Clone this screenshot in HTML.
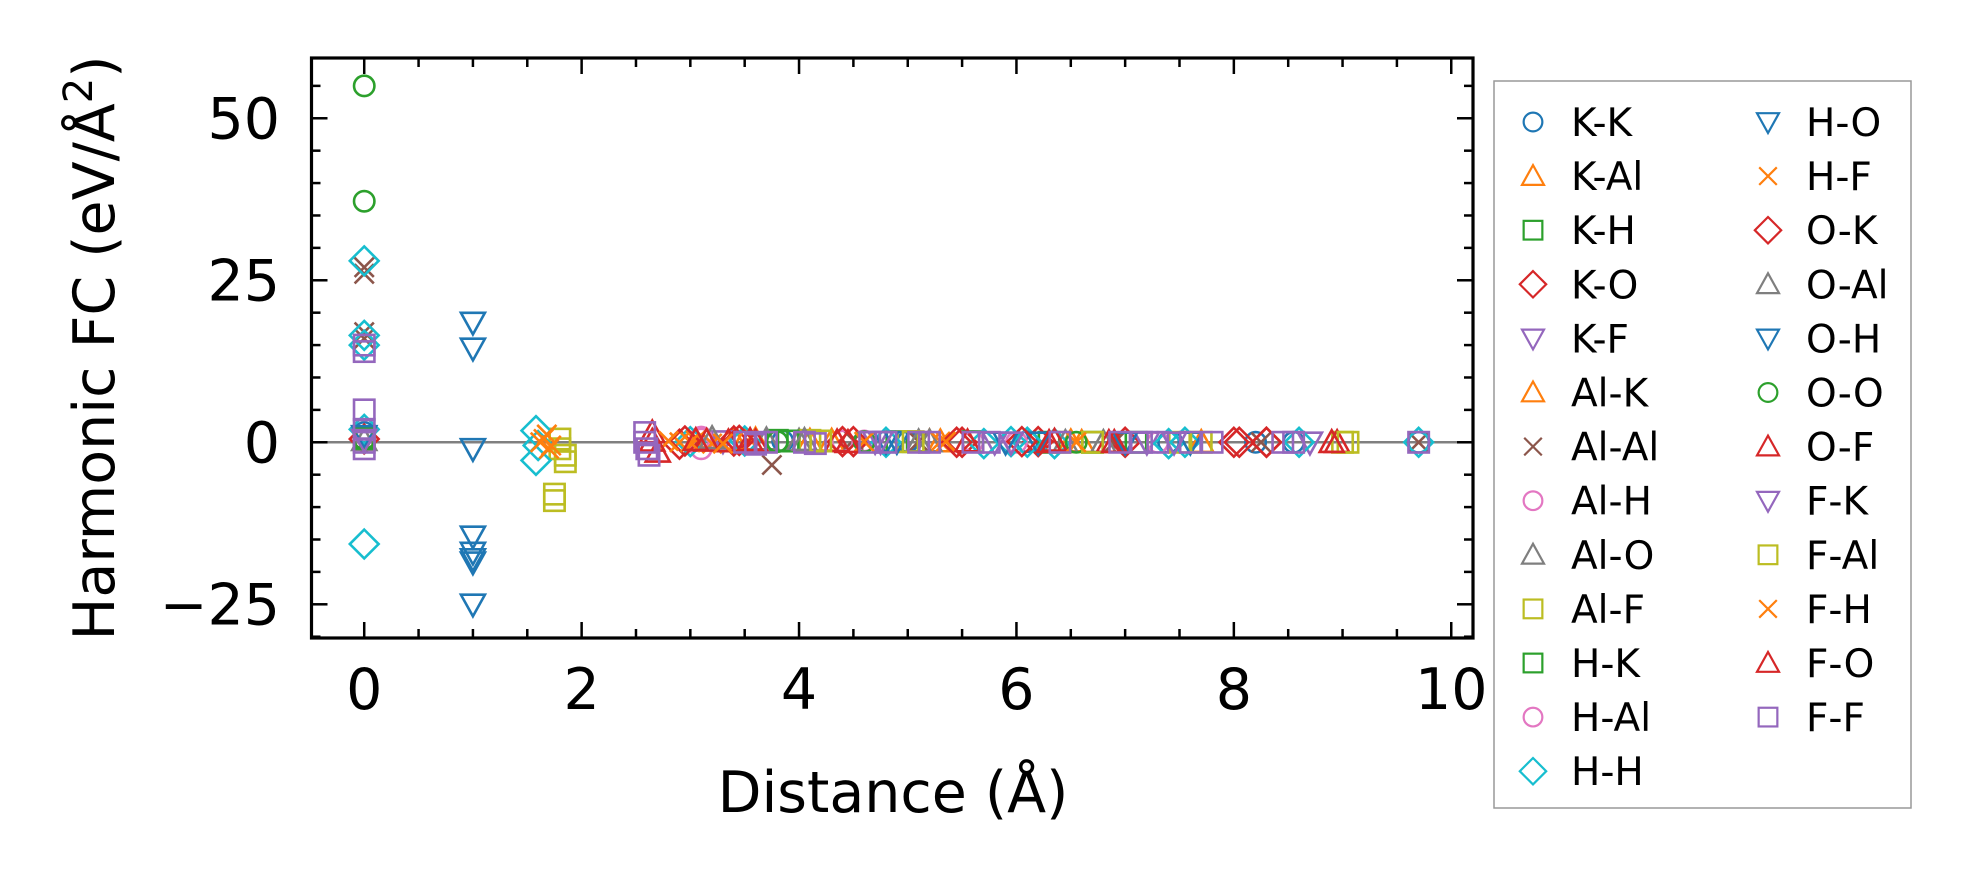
<!DOCTYPE html>
<html><head><meta charset="utf-8"><style>
html,body{margin:0;padding:0;background:#fff}
svg{display:block}
text{font-family:"DejaVu Sans","Liberation Sans",sans-serif;fill:#000}
</style></head><body>
<svg id="chart" width="1970" height="883" viewBox="0 0 1970 883" xmlns="http://www.w3.org/2000/svg">
<g id="marks"></g>
<g id="axes"></g>
<g id="legend"></g>
</svg>
<script>
const xTicks=[0,2,4,6,8,10];
const yTicks=[-25,0,25,50];
const seriesNames=["K-K","K-Al","K-H","K-O","K-F","Al-K","Al-Al","Al-H","Al-O","Al-F","H-K","H-Al","H-H","H-O","H-F","O-K","O-Al","O-H","O-O","O-F","F-K","F-Al","F-H","F-O","F-F"];
const seriesColors=["#1f77b4","#ff7f0e","#2ca02c","#d62728","#9467bd","#ff7f0e","#8c564b","#e377c2","#7f7f7f","#bcbd22","#2ca02c","#e377c2","#17becf","#1f77b4","#ff7f0e","#d62728","#7f7f7f","#1f77b4","#2ca02c","#d62728","#9467bd","#bcbd22","#ff7f0e","#d62728","#9467bd"];
const seriesMarkers=["o","^","s","D","v","^","x","o","^","s","s","o","D","v","x","D","^","v","o","^","v","s","x","^","s"];
const distKK=[0,3.85,5.0,6.1,7.4,8.2,8.55,9.7];
const valKK=[1.5,0.2,0.1,0.1,0.0,0.0,0.0,0.0];
const distKAl=[3.4,3.6,4.3,5.2,6.5,7.7];
const valKAl=[0.5,0.4,0.2,0.1,0.1,0.0];
const distKH=[0,3.8,4.9,6.3,7.1];
const valKH=[0.8,0.3,0.1,0.0,0.0];
const distKO=[0,2.9,3.4,4.5,5.5,6.2,7.0,8.0,8.3];
const valKO=[0.5,-0.3,0.2,0.1,0.0,0.1,0.0,0.0,0.0];
const distKF=[0,3.3,4.7,5.8,7.2,8.7];
const valKF=[0.3,0.2,0.1,0.0,0.0,0.0];
const distAlK=[3.5,4.1,5.3,6.6];
const valAlK=[0.4,0.2,0.1,0.0];
const distAlAl=[0,0,0,0,3.75,4.5,5.1,6.9,8.25,9.7];
const valAlAl=[27,26,17,16,-3.5,0.3,0.1,0.0,0.0,0.0];
const distAlH=[3.1,3.1,4.4,5.6,7.3];
const valAlH=[0.5,-1.0,0.2,0.1,0.0];
const distAlO=[0,3.7,4.0,5.2,6.8];
const valAlO=[0.3,0.4,0.2,0.1,0.0];
const distAlF=[1.8,1.8,1.85,1.85,1.75,1.75,4.1,5.0,6.4,7.5,9.0];
const valAlF=[0.5,-1.0,-2.0,-3.0,-9.0,-8.0,0.3,0.1,0.0,0.0,0.0];
const distHK=[0,3.9,5.6,6.7];
const valHK=[0.6,0.2,0.1,0.0];
const distHAl=[3.1,4.6,6.0];
const valHAl=[0.8,0.2,0.0];
const distHH=[0,0,0,0,0,1.58,1.58,1.6,3.0,3.5,4.8,5.7,5.95,6.1,6.35,7.4,7.55,8.6,9.7];
const valHH=[28,16.5,15,2,-15.7,1.8,-2.8,-0.5,0.1,0.2,0.0,-0.2,0.1,0.0,-0.2,-0.2,0.0,0.0,0.0];
const distHO=[1.0,1.0,1.0,1.0,1.0,1.0,1.0,1.0,4.8,6.2,7.6];
const valHO=[18.5,14.5,-1.0,-14.5,-17,-18,-18.5,-25,0.1,0.0,0.0];
const distHF=[1.65,1.68,1.7,2.9,3.05,3.2,5.3];
const valHF=[0.5,1.2,-1.0,0.0,0.3,-0.2,0.1];
const distOK=[2.95,3.45,4.4,5.45,6.05,8.05,8.3];
const valOK=[0.2,0.3,0.1,0.0,0.1,0.0,0.0];
const distOAl=[3.2,4.05,5.1,6.45];
const valOAl=[0.6,0.3,0.1,0.0];
const distOH=[0,4.9,5.9,7.0];
const valOH=[1.0,0.1,0.0,0.0];
const distOO=[0,0,0,3.8,4.6,6.55];
const valOO=[55,37.2,0.5,0.1,0.1,0.0];
const distOF=[2.65,2.7,3.15,3.35,3.55,4.35,6.35,6.85,8.95];
const valOF=[1.5,-1.5,0.2,0.1,0.3,0.1,0.2,0.0,0.0];
const distFK=[0,4.75,5.95,7.45];
const valFK=[0.4,0.1,0.0,0.0];
const distFAl=[4.2,5.05,6.7,7.7,9.05];
const valFAl=[0.2,0.1,0.0,0.0,0.0];
const distFH=[1.62,1.72,2.8,3.0,3.3,4.6,5.35,6.55];
const valFH=[0.0,-0.5,0.2,0.0,-0.2,0.1,0.1,0.0];
const distFO=[2.65,3.05,3.6,4.45,5.55,6.3,6.9,8.9];
const valFO=[0.2,0.3,0.1,0.0,0.1,0.0,0.0,0.0];
const distFF=[0,0,0,0,0,0,2.58,2.58,2.6,2.62,3.5,3.6,3.7,4.05,4.15,4.65,4.8,5.1,5.2,5.6,5.75,6.4,6.95,7.15,7.3,7.6,7.8,8.45,8.55,9.7];
const valFF=[15,14,5,2,0,-1,1.5,0,-1,-2,0,-0.3,0,0,-0.2,0,0,0,0,0,0,0,0,0,0,0,0,0,0,0];
const seriesDist=[distKK,distKAl,distKH,distKO,distKF,distAlK,distAlAl,distAlH,distAlO,distAlF,distHK,distHAl,distHH,distHO,distHF,distOK,distOAl,distOH,distOO,distOF,distFK,distFAl,distFH,distFO,distFF];
const seriesVals=[valKK,valKAl,valKH,valKO,valKF,valAlK,valAlAl,valAlH,valAlO,valAlF,valHK,valHAl,valHH,valHO,valHF,valOK,valOAl,valOH,valOO,valOF,valFK,valFAl,valFH,valFO,valFF];

const NS="http://www.w3.org/2000/svg";
const L=311.5,R=1473,T=58,B=638;
const X0=-0.485,X1=10.2,Y0=-30.2,Y1=59.3;
function xs(v){return L+(v-X0)/(X1-X0)*(R-L);}
function ys(v){return B-(v-Y0)/(Y1-Y0)*(B-T);}
function mk(tag,attrs,parent){const e=document.createElementNS(NS,tag);for(const k in attrs)e.setAttribute(k,attrs[k]);parent.appendChild(e);return e;}
function marker(type,cx,cy,s,color,parent,sw){
  let e;
  const st={fill:"none",stroke:color,"stroke-width":sw};
  if(type==="o"){e=mk("circle",Object.assign({cx:cx,cy:cy,r:s*0.85},st),parent);}
  else if(type==="s"){e=mk("rect",Object.assign({x:cx-s*0.85,y:cy-s*0.85,width:s*1.7,height:s*1.7},st),parent);}
  else if(type==="D"){const d=s*1.2;e=mk("polygon",Object.assign({points:`${cx},${cy-d} ${cx+d},${cy} ${cx},${cy+d} ${cx-d},${cy}`},st),parent);}
  else if(type==="^"){e=mk("polygon",Object.assign({points:`${cx},${cy-s} ${cx+s},${cy+s*0.8} ${cx-s},${cy+s*0.8}`},st),parent);}
  else if(type==="v"){e=mk("polygon",Object.assign({points:`${cx},${cy+s} ${cx+s},${cy-s*0.8} ${cx-s},${cy-s*0.8}`},st),parent);}
  else {e=mk("path",Object.assign({d:`M${cx-s*0.8},${cy-s*0.8}L${cx+s*0.8},${cy+s*0.8}M${cx-s*0.8},${cy+s*0.8}L${cx+s*0.8},${cy-s*0.8}`},st),parent);}
  return e;
}
const marks=document.getElementById("marks");
const axes=document.getElementById("axes");
const legend=document.getElementById("legend");
const zl=mk("line",{x1:L,x2:R,y1:ys(0),y2:ys(0),stroke:"#808080","stroke-width":2.5},marks);


for(let i=0;i<seriesNames.length;i++){
  const g=mk("g",{},marks);
  
  
  const dd=seriesDist[i],vv=seriesVals[i];
  for(let j=0;j<dd.length;j++){
    const p=marker(seriesMarkers[i],xs(dd[j]),ys(vv[j]),12,seriesColors[i],g,2.6);
    
    
  }
}
const fr=mk("rect",{x:L,y:T,width:R-L,height:B-T,fill:"none",stroke:"#000","stroke-width":3.2},axes);


for(let v=0;v<=10.001;v+=0.5){
  const major=Math.abs(v-Math.round(v/2)*2)<1e-6;
  const len=major?16:9;const x=xs(v);
  mk("line",{x1:x,x2:x,y1:B,y2:B-len,stroke:"#000","stroke-width":2.5},axes);
  mk("line",{x1:x,x2:x,y1:T,y2:T+len,stroke:"#000","stroke-width":2.5},axes);
}
for(const v of xTicks){
  const t=mk("text",{x:xs(v),y:709,"font-size":57,"text-anchor":"middle"},axes);
  t.textContent=String(v);
  
  
}
for(let v=-30;v<=55;v+=5){
  const major=v%25===0;const len=major?16:9;const y=ys(v);
  mk("line",{x1:L,x2:L+len,y1:y,y2:y,stroke:"#000","stroke-width":2.5},axes);
  mk("line",{x1:R,x2:R-len,y1:y,y2:y,stroke:"#000","stroke-width":2.5},axes);
}
for(const v of yTicks){
  const t=mk("text",{x:280,y:ys(v)+20,"font-size":57,"text-anchor":"end"},axes);
  t.textContent=v<0?"\u2212"+Math.abs(v):String(v);
  
  
}
const xt=mk("text",{x:893,y:812,"font-size":57,"text-anchor":"middle"},axes);
xt.textContent="Distance (Å)";


const yt=mk("text",{x:0,y:0,"font-size":57,"text-anchor":"middle",transform:"translate(114,348) rotate(-90)"},axes);
yt.innerHTML='Harmonic FC (eV/Å<tspan dy="-22" font-size="40">2</tspan><tspan dy="22">)</tspan>';


const lb=mk("rect",{x:1494,y:81,width:417,height:727,fill:"#fff",stroke:"#999","stroke-width":1.5},legend);


for(let i=0;i<seriesNames.length;i++){
  const col=i<13?0:1,row=i<13?i:i-13;
  const y=122+row*54.1;
  const mx=col?1768:1533,tx=col?1806:1571;
  const g=mk("g",{},legend);
  
  
  marker(seriesMarkers[i],mx,y,11,seriesColors[i],g,2.2);
  const t=mk("text",{x:tx,y:y+14,"font-size":39},g);
  t.textContent=seriesNames[i];
}
</script>
</body></html>
